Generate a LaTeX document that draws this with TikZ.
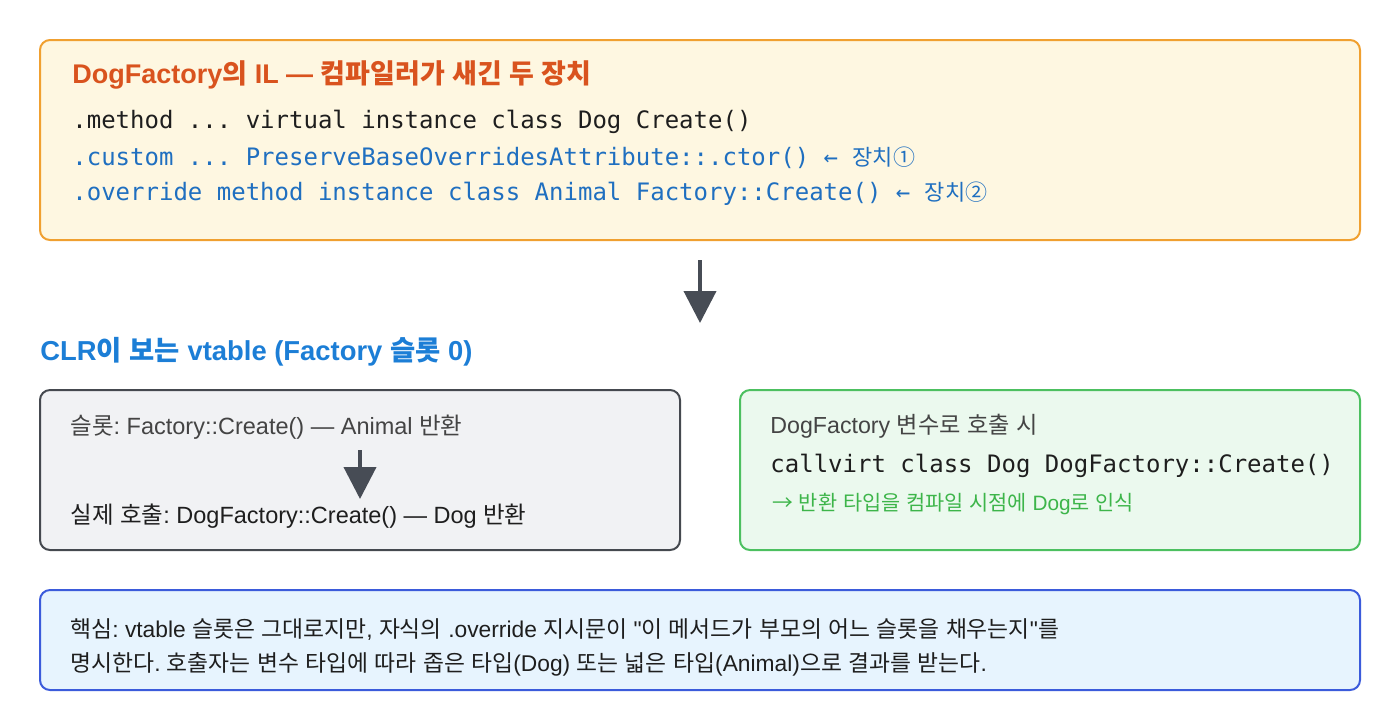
\documentclass[tikz,border=0pt]{standalone}
\usepackage{fontspec}
\setmainfont{Liberation Sans}[Ligatures=TeXOff]
\setmonofont{DejaVu Sans Mono}
\newfontfamily\kr{Noto Sans CJK KR}
\newfontfamily\lat{Liberation Sans}
\usetikzlibrary{arrows.meta}
\frenchspacing

% Hangul in Noto Sans CJK KR, the rest in Liberation Sans
\XeTeXinterchartokenstate=1
\newXeTeXintercharclass\hangulclass
\count255="AC00
\loop
  \XeTeXcharclass\count255=\hangulclass
  \ifnum\count255<"D7A3 \advance\count255 by 1
\repeat
\XeTeXcharclass"2460=\hangulclass
\XeTeXcharclass"2461=\hangulclass
\XeTeXinterchartoks 0 \hangulclass = {\kr}
\XeTeXinterchartoks 4095 \hangulclass = {\kr}
\XeTeXinterchartoks \hangulclass 0 = {\lat}
\XeTeXinterchartoks \hangulclass 4095 = {\lat}

\definecolor{ilfill}{HTML}{FEF7E1}
\definecolor{ilborder}{HTML}{F0A030}
\definecolor{iltitle}{HTML}{D9531E}
\definecolor{codeblue}{HTML}{1F6FC0}
\definecolor{codedark}{HTML}{1E1E1E}
\definecolor{arrowgray}{HTML}{474C55}
\definecolor{clrblue}{HTML}{1C7ED6}
\definecolor{slotfill}{HTML}{F1F2F4}
\definecolor{slotborder}{HTML}{45494F}
\definecolor{slottext}{HTML}{444444}
\definecolor{callfill}{HTML}{EBF9EE}
\definecolor{callborder}{HTML}{4CC060}
\definecolor{callgreen}{HTML}{3DB54A}
\definecolor{keyfill}{HTML}{E7F4FE}
\definecolor{keyborder}{HTML}{3B5BDB}

\begin{document}
\begin{tikzpicture}[x=0.5pt, y=-0.5pt,
  box/.style={line width=1pt, rounded corners=5pt},
  txt/.style={anchor=west, inner sep=0pt},
  bigarrow/.style={-{Triangle[width=16pt,length=16pt]}, line width=2pt, color=arrowgray}]

\useasboundingbox (0,0) rectangle (1400,720);

\draw[box, draw=ilborder, fill=ilfill] (40,40) rectangle (1360,240);
\node[txt, text=iltitle, font=\bfseries\fontsize{13.5pt}{16pt}\selectfont] (iltitle) at (72,75) {DogFactory의 IL — 컴파일러가 새긴 두 장치};
\node[txt, text=codedark, font=\ttfamily\fontsize{12pt}{14pt}\selectfont] (method) at (72,122) {.method ... virtual instance class Dog Create()};
\node[txt, text=codeblue, font=\ttfamily\fontsize{12pt}{14pt}\selectfont] (custom) at (72,158) {.custom ... PreserveBaseOverridesAttribute::.ctor() ← {\kr\fontsize{11pt}{14pt}\selectfont 장치①}};
\node[txt, text=codeblue, font=\ttfamily\fontsize{12pt}{14pt}\selectfont] (override) at (72,194) {.override method instance class Animal Factory::Create() ← {\kr\fontsize{11pt}{14pt}\selectfont 장치②}};

\coordinate (downS) at (700,260);
\coordinate (downE) at (700,323);
\draw[bigarrow] (downS) -- (downE);

\node[txt, text=clrblue, font=\bfseries\fontsize{13.7pt}{16pt}\selectfont] (clrtitle) at (40,352) {CLR이 보는 vtable (Factory 슬롯 0)};

\draw[box, draw=slotborder, fill=slotfill] (40,390) rectangle (680,550);
\node[txt, text=slottext, font=\fontsize{11.75pt}{14pt}\selectfont] (slot) at (70,427) {슬롯: Factory::Create() — Animal 반환};
\node[txt, text=codedark, font=\fontsize{11.75pt}{14pt}\selectfont] (actual) at (70,516) {실제 호출: DogFactory::Create() — Dog 반환};
\coordinate (slotS) at (360,450);
\coordinate (slotE) at (360,499);
\draw[bigarrow] (slotS) -- (slotE);

\draw[box, draw=callborder, fill=callfill] (740,390) rectangle (1360,550);
\node[txt, text=slottext, font=\fontsize{11.6pt}{14pt}\selectfont] (callhead) at (770,426) {DogFactory 변수로 호출 시};
\node[txt, text=codedark, font=\ttfamily\fontsize{12pt}{14pt}\selectfont] (callvirt) at (770,466) {callvirt class Dog DogFactory::Create()};
\node[txt, text=callgreen, font=\fontsize{10.4pt}{12pt}\selectfont] (callnote) at (772,504) {{\kr →} 반환 타입을 컴파일 시점에 Dog로 인식};

\draw[box, draw=keyborder, fill=keyfill] (40,590) rectangle (1360,690);
\node[txt, text=codedark, font=\fontsize{11.4pt}{14pt}\selectfont] (key1) at (70,630) {핵심: vtable 슬롯은 그대로지만, 자식의 .override 지시문이 "이 메서드가 부모의 어느 슬롯을 채우는지"를};
\node[txt, text=codedark, font=\fontsize{11.4pt}{14pt}\selectfont] (key2) at (70,664) {명시한다. 호출자는 변수 타입에 따라 좁은 타입(Dog) 또는 넓은 타입(Animal)으로 결과를 받는다.};

\end{tikzpicture}
\end{document}
